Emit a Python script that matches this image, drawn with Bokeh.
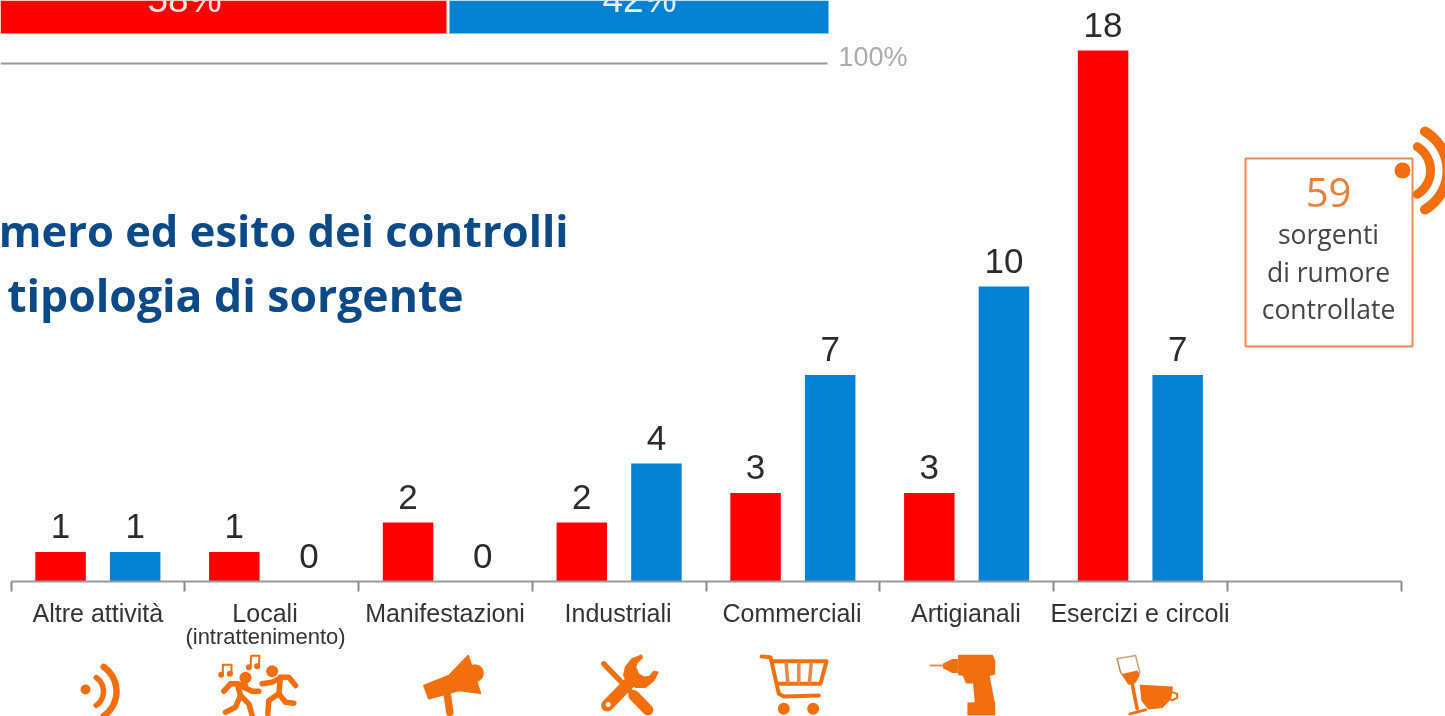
import numpy as np
from bokeh.core.properties import value
from bokeh.embed import file_html
from bokeh.models import ColumnDataSource, FixedTicker, Range1d
from bokeh.plotting import figure
from bokeh.resources import INLINE
from bokeh.transform import dodge

categories = ["Altre attività", "Locali", "Manifestazioni", "Industriali",
              "Commerciali", "Artigianali", "Esercizi e circoli"]
label_positions = [0.5, 1.462, 2.498, 3.494, 4.495, 5.496, 6.498]
group_index = [0.5, 1.5, 2.5, 3.5, 4.5, 5.5, 6.5]
boundaries = [0, 1, 2, 3, 4, 5, 6, 7, 8]
red_values = [1, 1, 2, 2, 3, 3, 18]
blue_values = [1, 0, 0, 4, 7, 10, 7]
share_labels = ["58%", "42%"]
share_values = [58, 42]

RED = "#ff0000"
BLUE = "#0582d3"
ORANGE = "#f26f0f"
W, H = 1445, 716
UX, UY = 173.75, 29.5
X0, Y0 = 10.5, 581

p = figure(width=W, height=H, output_backend="svg", toolbar_location=None, min_border=0,
           x_range=Range1d(-X0 / UX, (W - X0) / UX),
           y_range=Range1d(-(H - Y0) / UY, Y0 / UY))
p.styles = {"position": "fixed", "left": "0px", "top": "0px"}
p.extra_x_ranges = {"px": Range1d(0, W), "pct": Range1d(80 / 9.08, (W + 80) / 9.08)}
p.extra_y_ranges = {"px": Range1d(H, 0)}
p.grid.visible = False
p.yaxis.visible = False
p.outline_line_color = None
p.background_fill_color = "white"
p.border_fill_color = "white"

ax = p.xaxis[0]
ax.fixed_location = 0
ax.bounds = (0, 8)
ax.ticker = FixedTicker(ticks=label_positions, minor_ticks=boundaries)
ax.major_label_overrides = {k: v for k, v in zip(label_positions, categories)}
ax.major_tick_in = 0
ax.major_tick_out = 0
ax.minor_tick_in = 0
ax.minor_tick_out = 10
ax.minor_tick_line_color = "#8a8a8a"
ax.minor_tick_line_width = 2
ax.axis_line_color = "#9a9a9a"
ax.axis_line_width = 2
ax.major_label_text_font = "Liberation Sans"
ax.major_label_text_font_size = "25px"
ax.major_label_text_color = "#333333"
ax.major_label_standoff = 7
ax.major_label_orientation = "horizontal"

src = ColumnDataSource(dict(x=group_index, r=red_values, b=blue_values,
                            rl=[str(v) for v in red_values], bl=[str(v) for v in blue_values]))
BW = 50.5 / UX
OFF = 37.3 / UX
p.vbar(x=dodge("x", -OFF, range=p.x_range), top="r", width=BW, source=src, color=RED, line_color=None)
p.vbar(x=dodge("x", OFF, range=p.x_range), top="b", width=BW, source=src, color=BLUE, line_color=None)
for col, lab, off in (("r", "rl", -OFF), ("b", "bl", OFF)):
    p.text(x=dodge("x", off, range=p.x_range), y=col, text=lab, source=src,
           text_align="center", text_baseline="middle", y_offset=-26,
           text_font=value("Liberation Sans"), text_font_size="35px", text_color="#2b2b2b")

PX = dict(x_range_name="px", y_range_name="px")


def txt(x, y, s, size, color, font="Open Sans", align="center", style="normal", baseline="middle"):
    p.text(x=[x], y=[y], text=[s], text_font=value(font), text_font_size=f"{size}px",
           text_color=color, text_align=align, text_baseline=baseline, text_font_style=style, **PX)


# top share bar
starts = [0, share_values[0]]
ends = [share_values[0], 100]
p.hbar(y=[11.5, 11.5], left=starts, right=ends, height=43, fill_color=[RED, BLUE],
       line_color=None, x_range_name="pct", y_range_name="px")
p.line([447.5, 447.5], [-10, 33], line_color="white", line_width=3, **PX)
txt(184, -1, share_labels[0], 37, "#ffe4e4", "Liberation Sans")
txt(639, -1, share_labels[1], 37, "#e2f1fb", "Liberation Sans")
p.line([0, 827], [63, 63], line_color="#9a9a9a", line_width=2, **PX)
txt(838, 56, "100%", 27, "#ababab", "Liberation Sans", "left")

# title
txt(568, 230, "mero ed esito dei controlli", 43.5, "#0b4a86", "Open Sans", "right", "bold")
txt(463, 294, "tipologia di sorgente", 44.5, "#0b4a86", "Open Sans", "right", "bold")

# sub label
txt(265, 636, "(intrattenimento)", 22, "#333333", "Liberation Sans")

# total box
p.quad(left=[1245], right=[1412], top=[158], bottom=[346], fill_color=None,
       line_color="#ee8c50", line_width=2, **PX)
txt(1328, 192, "59", 40, "#e8803a", "Open Sans")
for yy, s in zip((233, 271, 308), ("sorgenti", "di rumore", "controllate")):
    txt(1328, yy, s, 26.5, "#454545", "Open Sans")


def poly(pts, color=ORANGE):
    xs, ys = zip(*pts)
    p.patch(list(xs), list(ys), fill_color=color, line_color=color, line_width=1.5,
            line_join="round", **PX)


def stroke(pts, w=4, color=ORANGE):
    xs, ys = zip(*pts)
    p.line(list(xs), list(ys), line_color=color, line_width=w, line_cap="round", line_join="round", **PX)


def dot(x, y, r, color=ORANGE):
    p.scatter([x], [y], size=2 * r, fill_color=color, line_color=None, **PX)


def band(cx, cy, r, w, a=55):
    t = np.radians(np.linspace(-a, a, 24))
    stroke(list(zip(cx + r * np.cos(t), cy + r * np.sin(t))), w)


def z(x0, pts):
    return [(x0 + a / 3, 650 + b / 3) for a, b in pts]


# signal icons
dot(85, 689, 5)
band(86, 691, 17, 5.5)
band(86, 691, 30, 6.5)
dot(1402, 170, 8)
band(1402, 170, 28, 9, 58)
band(1402, 170, 45, 10, 60)

# dancers
for a in ([(105, 105), (80, 100), (60, 100), (40, 122)],
          [(80, 100), (100, 110), (125, 122), (145, 122)],
          [(80, 100), (90, 135), (75, 170), (45, 185)],
          [(90, 135), (115, 160), (125, 195)],
          [(210, 80), (205, 130), (175, 150), (172, 190)],
          [(205, 130), (225, 155), (250, 158)],
          [(210, 82), (185, 95), (155, 100)],
          [(210, 80), (235, 80), (255, 105)]):
    stroke(z(210, a), 5.5)
dot(*z(210, [(105, 82)])[0], 6)
dot(*z(210, [(185, 62)])[0], 6)
for head_a, head_b, bar_a, bar_b in (((32, 73), (58, 70), (37, 43), (63, 43)),
                                     ((115, 50), (140, 47), (122, 16), (147, 16))):
    dot(*z(210, [head_a])[0], 3)
    dot(*z(210, [head_b])[0], 3)
    stroke(z(210, [(head_a[0] + 5, head_a[1]), bar_a, bar_b, (head_b[0] + 5, head_b[1])]), 2)

# megaphone
dot(*z(415, [(178, 68)])[0], 9)
poly(z(415, [(25, 105), (100, 75), (158, 15), (195, 128), (130, 120), (40, 145)]))
stroke(z(415, [(95, 130), (103, 186)]), 7.5)

# wrench and screwdriver
stroke(z(585, [(55, 40), (140, 128)]), 5.5)
stroke(z(585, [(145, 135), (187, 178)]), 11)
stroke(z(585, [(65, 165), (140, 88)]), 12)
poly(z(585, [(168, 14), (140, 25), (120, 50), (115, 75), (125, 95), (150, 110), (180, 110),
             (205, 90), (217, 65), (205, 63), (192, 78), (175, 80), (158, 70), (150, 50),
             (155, 35), (170, 22)]))
dot(*z(585, [(68, 162)])[0], 2.5, "white")

# cart
stroke(z(745, [(48, 18), (75, 20), (100, 130), (115, 138), (220, 135)]), 4)
stroke(z(745, [(80, 32), (243, 32), (225, 100), (95, 100)]), 4)
for a, b in (((122, 38), (127, 95)), ((160, 38), (160, 95)), ((197, 38), (192, 95))):
    stroke(z(745, [a, b]), 3.5, "#e58a4a")
dot(*z(745, [(115, 175)])[0], 6)
dot(*z(745, [(203, 175)])[0], 6)

# drill
stroke(z(920, [(30, 45), (75, 45)]), 2, "#e5935c")
poly(z(920, [(70, 40), (95, 28), (110, 28), (110, 65), (95, 65), (70, 52)]))
poly(z(920, [(115, 15), (215, 15), (222, 30), (222, 70), (205, 75), (220, 155), (165, 155), (158, 78), (115, 72)]))
poly(z(920, [(143, 158), (222, 155), (222, 193), (143, 193)]))
poly(z(920, [(130, 78), (155, 78), (155, 97), (138, 97)]))

# wine and cup
stroke(z(1100, [(50, 25), (105, 15)]), 1.5, "#c9a18a")
stroke(z(1100, [(50, 25), (60, 65), (85, 100)]), 1.5, "#d18452")
stroke(z(1100, [(105, 15), (118, 65), (105, 95)]), 1.5, "#c9a18a")
poly(z(1100, [(68, 72), (110, 62), (115, 75), (100, 98), (85, 100)]))
stroke(z(1100, [(95, 100), (110, 175)]), 3.5)
stroke(z(1100, [(88, 190), (135, 178)]), 3)
poly(z(1100, [(120, 105), (215, 110), (210, 145), (185, 170), (145, 175), (125, 150)]))
stroke(z(1100, [(215, 125), (230, 130), (230, 143), (212, 150)]), 2)

open("out.html", "w").write(file_html(p, INLINE))
